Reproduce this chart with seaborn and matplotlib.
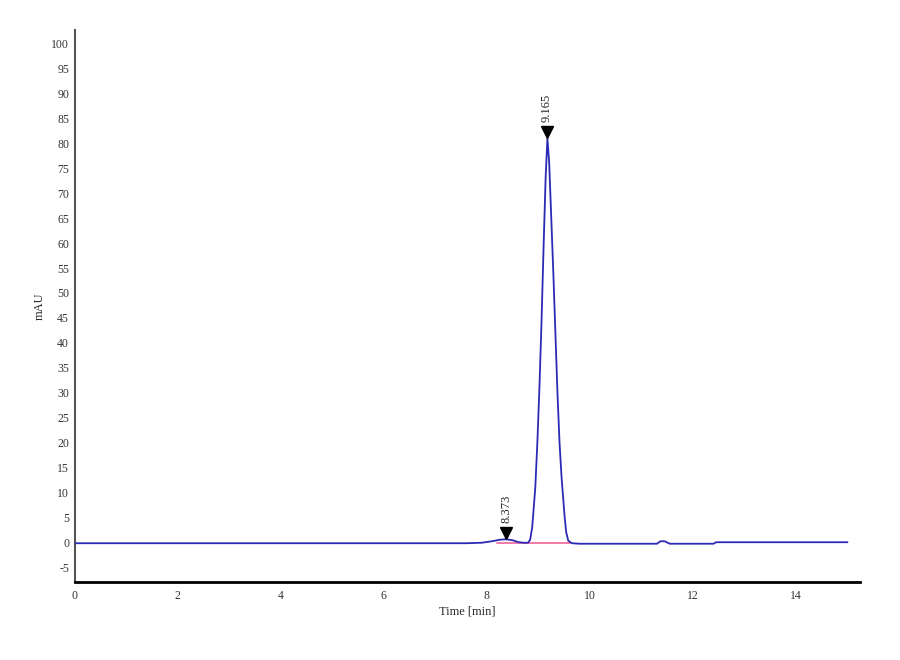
import matplotlib
matplotlib.use("Agg")
import matplotlib.pyplot as plt
import numpy as np
import pandas as pd
import seaborn as sns

# chromatogram trace (time in min, signal in mAU)
time_min = [0.0, 2.0, 4.0, 6.0, 7.6, 7.9, 8.1, 8.25, 8.373, 8.5, 8.62, 8.72,
            8.80, 8.84, 8.88, 8.91, 8.94, 8.98, 9.02, 9.06, 9.10, 9.14, 9.175,
            9.21, 9.25, 9.29, 9.33, 9.37, 9.41, 9.45, 9.48, 9.51, 9.54, 9.58,
            9.65, 9.8, 10.5, 11.3, 11.37, 11.45, 11.55, 12.4, 12.45, 13.5, 15.0]
signal_mau = [-0.2, -0.2, -0.2, -0.2, -0.2, -0.1, 0.2, 0.5, 0.6, 0.4, 0.0, -0.1,
              -0.1, 0.5, 3.0, 7.0, 11.0, 20.0, 31.0, 44.0, 59.0, 73.0, 81.0,
              76.0, 65.0, 54.0, 42.0, 30.0, 20.0, 13.0, 9.0, 5.0, 2.0, 0.3,
              -0.2, -0.3, -0.3, -0.3, 0.2, 0.2, -0.3, -0.3, 0.0, 0.0, 0.0]

# integrated peaks
peak_times = [8.373, 9.165]
peak_labels = ["8.373", "9.165"]
peak_heights = [0.6, 81.0]

# baseline drawn under the peaks
baseline_t = [8.2, 9.62]
baseline_v = [-0.2, -0.2]

df = pd.DataFrame({"t": time_min, "mAU": signal_mau})

sns.set_style("white")
plt.rcParams["font.family"] = ["Liberation Serif", "DejaVu Serif"]
plt.rcParams["axes.unicode_minus"] = False

fig = plt.figure(figsize=(9, 6.6), dpi=100)
ax = fig.add_axes([0.083, 0.118, 0.873, 0.837])

ax.plot(baseline_t, baseline_v, color="#f06fa0", lw=1.3, zorder=2)
sns.lineplot(data=df, x="t", y="mAU", ax=ax, color="#2a2ab5", lw=1.3,
             zorder=3, estimator=None, sort=False)

for t, h, lab in zip(peak_times, peak_heights, peak_labels):
    ax.plot(t, h + 1.3, marker="v", color="black", ms=8, zorder=4)
    ax.text(t, h + 3.2, lab, rotation=90, ha="center", va="bottom",
            fontsize=9, color="#222222")

ax.set_xlim(0, 15.25)
ax.set_ylim(-8, 102.8)
ax.set_xticks(np.arange(0, 15, 2))
ax.set_yticks(np.arange(-5, 101, 5))
ax.tick_params(axis="both", labelsize=8.5, length=3, width=1,
               direction="out", colors="#333333", pad=1)
ax.tick_params(axis="x", pad=3)

ax.set_xlabel("Time [min]", fontsize=9, labelpad=2)
ax.set_ylabel("mAU", fontsize=9, labelpad=4)

for side in ["top", "right"]:
    ax.spines[side].set_visible(False)
ax.spines["left"].set_color("#555555")
ax.spines["left"].set_linewidth(1.5)
ax.spines["bottom"].set_color("black")
ax.spines["bottom"].set_linewidth(2)

fig.savefig("out.png", dpi=100)
